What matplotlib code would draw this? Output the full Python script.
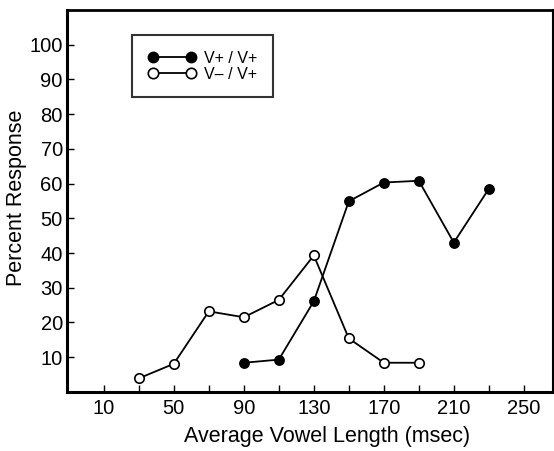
import matplotlib
matplotlib.use("Agg")
import matplotlib.pyplot as plt
from matplotlib.lines import Line2D

plt.rcParams['font.family'] = ['Liberation Sans', 'DejaVu Sans']

# V+ / V+ (filled)
x_plus = [90, 110, 130, 150, 170, 190, 210, 230]
y_plus = [8.4, 9.3, 26.1, 54.9, 60.3, 60.8, 43.0, 58.5]

# V- / V+ (open)
x_minus = [30, 50, 70, 90, 110, 130, 150, 170, 190]
y_minus = [3.9, 8.1, 23.2, 21.5, 26.5, 39.3, 15.4, 8.4, 8.4]

xticks_major = [10, 50, 90, 130, 170, 210, 250]
xticks_minor = [30, 70, 110, 150, 190, 230]
yticks = [10, 20, 30, 40, 50, 60, 70, 80, 90, 100]

fig = plt.figure(figsize=(5.54, 4.51), dpi=100)
ax = fig.add_axes([0.121, 0.131, 0.877, 0.847])

ax.plot(x_minus, y_minus, color='black', lw=1.3, marker='o', ms=6.8,
        mfc='white', mec='black', mew=1.2, zorder=3)
ax.plot(x_plus, y_plus, color='black', lw=1.3, marker='o', ms=6.8,
        mfc='black', mec='black', zorder=4)

ax.set_xlim(-11, 266.6)
ax.set_ylim(0, 110)
ax.set_xticks(xticks_major)
ax.set_xticks(xticks_minor, minor=True)
ax.set_yticks(yticks)
ax.tick_params(axis='both', which='both', direction='in', width=1, labelsize=14.5)
ax.tick_params(axis='both', which='major', length=5)
ax.tick_params(axis='x', which='minor', length=5)
ax.tick_params(axis='x', pad=5)
ax.tick_params(axis='y', pad=3)

for s in ['left', 'bottom']:
    ax.spines[s].set_linewidth(2.2)
ax.spines['top'].set_linewidth(2.0)
ax.spines['right'].set_linewidth(1.5)

ax.set_xlabel('Average Vowel Length (msec)', fontsize=15.5)
ax.set_ylabel('Percent Response', fontsize=15.5)
ax.xaxis.set_label_coords(0.535, -0.09)
ax.yaxis.set_label_coords(-0.082, 0.508)

handles = [
    Line2D([0], [0], color='black', lw=1.3, marker='o', ms=7.5, mfc='black', mec='black'),
    Line2D([0], [0], color='black', lw=1.3, marker='o', ms=7.5, mfc='white', mec='black', mew=1.2),
]
leg = ax.legend(handles, ['V+ / V+', 'V\u2013 / V+'], loc='upper left',
                bbox_to_anchor=(0.134, 0.935), borderaxespad=0, numpoints=2,
                handlelength=3.0, fontsize=11.5, frameon=True, fancybox=False,
                borderpad=1.0, labelspacing=0.05, handletextpad=0.5)
leg.get_frame().set_edgecolor('black')
leg.get_frame().set_linewidth(1.5)

fig.savefig('out.png', dpi=100)
